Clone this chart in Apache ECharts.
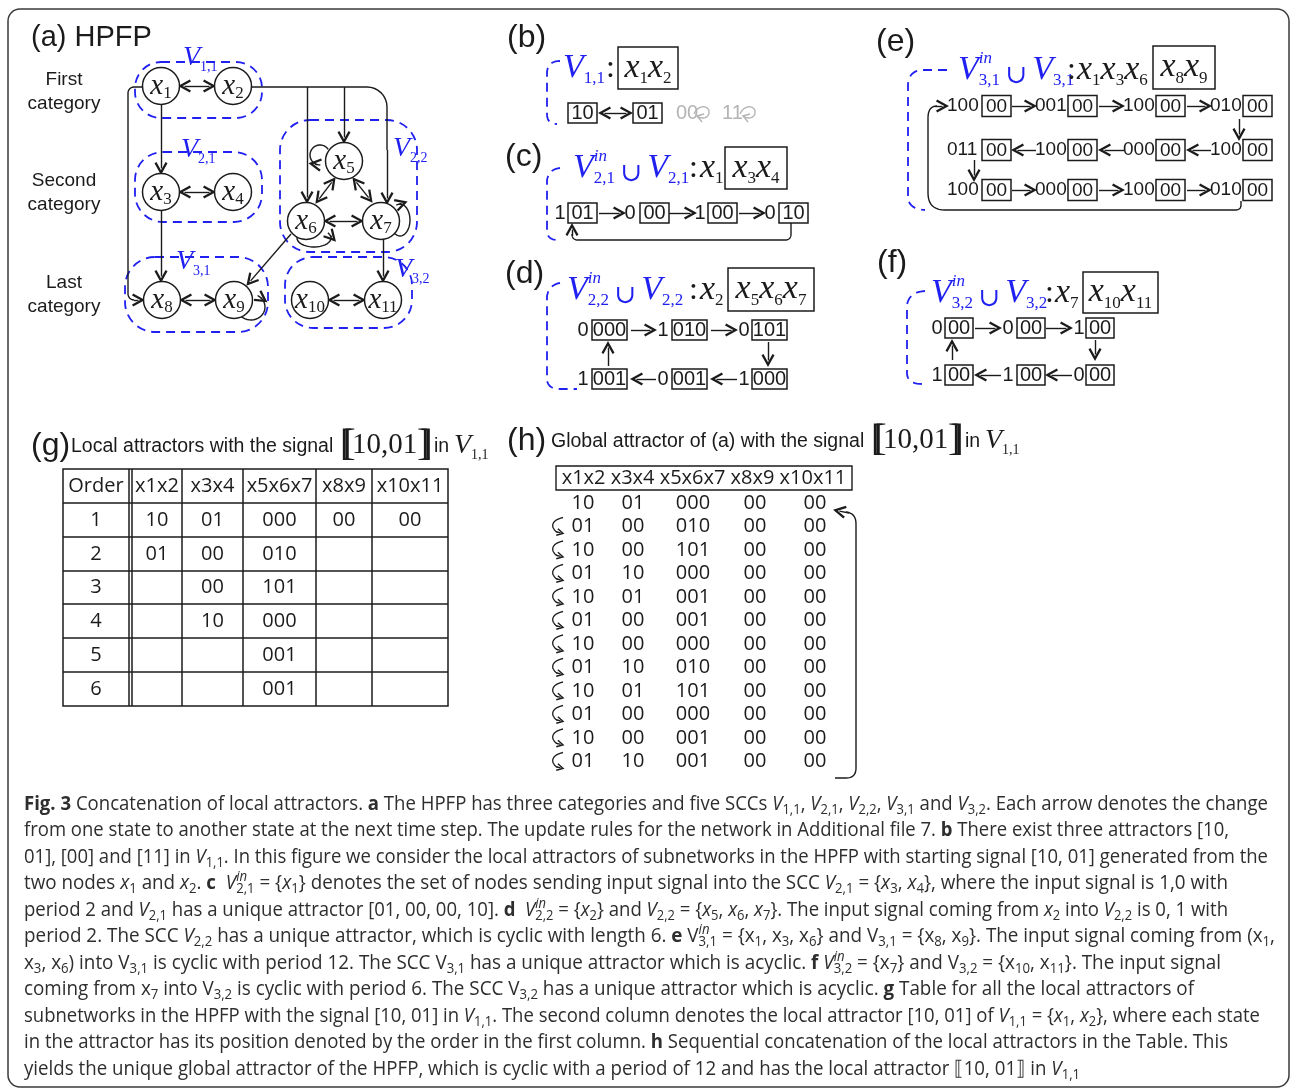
<!DOCTYPE html>
<html>
<head>
<meta charset="utf-8">
<script src="https://cdn.jsdelivr.net/npm/echarts@6/dist/echarts.min.js"></script>
<style>
html, body { margin: 0; padding: 0; background: #fff; }
#container { width: 1290px; height: 1090px; }
</style>
</head>
<body>
<div id="container"></div>
<script>
// ---- data ----
var nodeNames = ['x1', 'x2', 'x3', 'x4', 'x5', 'x6', 'x7', 'x8', 'x9', 'x10', 'x11'];
var sccNames = ['1,1', '2,1', '2,2', '3,1', '3,2'];
var categoryLines = [['First', 'category'], ['Second', 'category'], ['Last', 'category']];

var bAttractor = ['10', '01'];
var bOther = ['00', '11'];
var cSignal = ['1', '0', '1', '0'];
var cStates = ['01', '00', '00', '10'];
var dTopSignal = ['0', '1', '0'];
var dTopStates = ['000', '010', '101'];
var dBottomSignal = ['1', '0', '1'];
var dBottomStates = ['001', '001', '000'];
var eSignal1 = ['100', '001', '100', '010'];
var eSignal2 = ['011', '100', '000', '100'];
var eSignal3 = ['100', '000', '100', '010'];
var eStates = ['00', '00', '00', '00'];
var fTopSignal = ['0', '0', '1'];
var fBottomSignal = ['1', '1', '0'];
var fStates = ['00', '00', '00'];

var gHeader = ['Order', 'x1x2', 'x3x4', 'x5x6x7', 'x8x9', 'x10x11'];
var gOrder = ['1', '2', '3', '4', '5', '6'];
var gX1x2 = ['10', '01', '', '', '', ''];
var gX3x4 = ['01', '00', '00', '10', '', ''];
var gX5x6x7 = ['000', '010', '101', '000', '001', '001'];
var gX8x9 = ['00', '', '', '', '', ''];
var gX10x11 = ['00', '', '', '', '', ''];

var hHeader = ['x1x2', 'x3x4', 'x5x6x7', 'x8x9', 'x10x11'];
var hX1x2 = ['10', '01', '10', '01', '10', '01', '10', '01', '10', '01', '10', '01'];
var hX3x4 = ['01', '00', '00', '10', '01', '00', '00', '10', '01', '00', '00', '10'];
var hX5x6x7 = ['000', '010', '101', '000', '001', '001', '000', '010', '101', '000', '001', '001'];
var hX8x9 = ['00', '00', '00', '00', '00', '00', '00', '00', '00', '00', '00', '00'];
var hX10x11 = ['00', '00', '00', '00', '00', '00', '00', '00', '00', '00', '00', '00'];

// caption, one array per printed line: [style, text]
var capLine1 = [['b', 'Fig. 3'], ['n', ' Concatenation of local attractors. '], ['b', 'a'], ['n', ' The HPFP has three categories and five SCCs '], ['i', 'V'], ['s', '1,1'], ['n', ', '], ['i', 'V'], ['s', '2,1'], ['n', ', '], ['i', 'V'], ['s', '2,2'], ['n', ', '], ['i', 'V'], ['s', '3,1'], ['n', ' and '], ['i', 'V'], ['s', '3,2'], ['n', '. Each arrow denotes the change']];
var capLine2 = [['n', 'from one state to another state at the next time step. The update rules for the network in Additional file 7. '], ['b', 'b'], ['n', ' There exist three attractors [10,']];
var capLine3 = [['n', '01], [00] and [11] in '], ['i', 'V'], ['s', '1,1'], ['n', '. In this figure we consider the local attractors of subnetworks in the HPFP with starting signal [10, 01] generated from the']];
var capLine4 = [['n', 'two nodes '], ['i', 'x'], ['s', '1'], ['n', ' and '], ['i', 'x'], ['s', '2'], ['n', '. '], ['b', 'c'], ['n', '  '], ['i', 'V'], ['p', 'in'], ['s', '2,1'], ['n', ' = {'], ['i', 'x'], ['s', '1'], ['n', '} denotes the set of nodes sending input signal into the SCC '], ['i', 'V'], ['s', '2,1'], ['n', ' = {'], ['i', 'x'], ['s', '3'], ['n', ', '], ['i', 'x'], ['s', '4'], ['n', '}, where the input signal is 1,0 with']];
var capLine5 = [['n', 'period 2 and '], ['i', 'V'], ['s', '2,1'], ['n', ' has a unique attractor [01, 00, 00, 10]. '], ['b', 'd'], ['n', '  '], ['i', 'V'], ['p', 'in'], ['s', '2,2'], ['n', ' = {'], ['i', 'x'], ['s', '2'], ['n', '} and '], ['i', 'V'], ['s', '2,2'], ['n', ' = {'], ['i', 'x'], ['s', '5'], ['n', ', '], ['i', 'x'], ['s', '6'], ['n', ', '], ['i', 'x'], ['s', '7'], ['n', '}. The input signal coming from '], ['i', 'x'], ['s', '2'], ['n', ' into '], ['i', 'V'], ['s', '2,2'], ['n', ' is 0, 1 with']];
var capLine6 = [['n', 'period 2. The SCC '], ['i', 'V'], ['s', '2,2'], ['n', ' has a unique attractor, which is cyclic with length 6. '], ['b', 'e'], ['n', ' V'], ['p', 'in'], ['s', '3,1'], ['n', ' = {x'], ['s', '1'], ['n', ', x'], ['s', '3'], ['n', ', x'], ['s', '6'], ['n', '} and V'], ['s', '3,1'], ['n', ' = {x'], ['s', '8'], ['n', ', x'], ['s', '9'], ['n', '}. The input signal coming from (x'], ['s', '1'], ['n', ',']];
var capLine7 = [['n', 'x'], ['s', '3'], ['n', ', x'], ['s', '6'], ['n', ') into V'], ['s', '3,1'], ['n', ' is cyclic with period 12. The SCC V'], ['s', '3,1'], ['n', ' has a unique attractor which is acyclic. '], ['b', 'f'], ['n', ' '], ['i', 'V'], ['p', 'in'], ['s', '3,2'], ['n', ' = {x'], ['s', '7'], ['n', '} and V'], ['s', '3,2'], ['n', ' = {x'], ['s', '10'], ['n', ', x'], ['s', '11'], ['n', '}. The input signal']];
var capLine8 = [['n', 'coming from x'], ['s', '7'], ['n', ' into V'], ['s', '3,2'], ['n', ' is cyclic with period 6. The SCC V'], ['s', '3,2'], ['n', ' has a unique attractor which is acyclic. '], ['b', 'g'], ['n', ' Table for all the local attractors of']];
var capLine9 = [['n', 'subnetworks in the HPFP with the signal [10, 01] in '], ['i', 'V'], ['s', '1,1'], ['n', '. The second column denotes the local attractor [10, 01] of '], ['i', 'V'], ['s', '1,1'], ['n', ' = {'], ['i', 'x'], ['s', '1'], ['n', ', '], ['i', 'x'], ['s', '2'], ['n', '}, where each state']];
var capLine10 = [['n', 'in the attractor has its position denoted by the order in the first column. '], ['b', 'h'], ['n', ' Sequential concatenation of the local attractors in the Table. This']];
var capLine11 = [['n', 'yields the unique global attractor of the HPFP, which is cyclic with a period of 12 and has the local attractor \u27e610, 01\u27e7 in '], ['i', 'V'], ['s', '1,1']];

// ---- layout ----
var INK = '#1b1b1b', BLUE = '#2020f0', GREY = '#b4b4b4', CAPC = '#2e2e2e';
var SANS = 'Liberation Sans', SERIF = 'Liberation Serif', OPEN = 'Open Sans';

var nodePos = {
	x1: [161, 86], x2: [233, 86], x3: [161, 192], x4: [233, 192],
	x5: [344, 161], x6: [306, 221], x7: [381, 221],
	x8: [162, 300], x9: [234, 300], x10: [310, 300], x11: [383, 300]
};
var sccBox = { '1,1': [135, 62, 127, 56, 26], '2,1': [135, 152, 127, 70, 28], '2,2': [280, 120, 137, 132, 30], '3,1': [125, 257, 143, 75, 30], '3,2': [285, 257, 127, 71, 28] };
var sccLabel = { '1,1': [183, 58], '2,1': [181, 150], '2,2': [393, 149], '3,1': [176, 262], '3,2': [395, 270] };
var capEnds = [1268, 1229, 1268, 1228, 1228, 1275, 1221, 1194, 1260, 1228, 1080];
var capLines = [capLine1, capLine2, capLine3, capLine4, capLine5, capLine6, capLine7, capLine8, capLine9, capLine10, capLine11];

var chart = echarts.init(document.getElementById('container'));
var g = [];

function addText(x, y, text, family, size, opts) {
	var st = { text: text, x: 0, y: 0, fill: INK, fontFamily: family, fontSize: size, align: 'left', verticalAlign: 'middle' };
	if (opts) { for (var k in opts) st[k] = opts[k]; }
	g.push({ type: 'text', x: x, y: y, silent: true, style: st });
}
function toRich(parts) {
	return parts.map(function (p) { return p[0] === 'n' ? p[1] : '{' + p[0] + '|' + p[1] + '}'; }).join('');
}
function addRich(x, y, parts, set, align, sx) {
	g.push({ type: 'text', x: x, y: y, scaleX: sx || 1, silent: true, style: {
		text: toRich(parts), x: 0, y: 0, align: align || 'left', verticalAlign: 'middle',
		fill: set.fill, fontFamily: set.family, fontSize: set.size, fontStyle: set.style || 'normal', fontWeight: 'normal',
		lineHeight: set.L, rich: set.rich } });
}
function addRect(x, y, w, h, stroke, lw, r, dash) {
	g.push({ type: 'rect', silent: true, shape: { x: x, y: y, width: w, height: h, r: r || 0 },
		style: { fill: 'none', stroke: stroke || INK, lineWidth: lw || 1.4, lineDash: dash || null } });
}
// small path reader (absolute M, L, Q, C) turned into polylines
function addPath(d, stroke, lw, dash) {
	var subs = [], cur = null, last = null;
	d.replace(/([MLQC])([^MLQC]*)/g, function (m, cmd, args) {
		var n = (args.match(/-?\d+(\.\d+)?/g) || []).map(Number);
		if (cmd === 'M') { cur = [[n[0], n[1]]]; subs.push(cur); last = [n[0], n[1]]; }
		else if (cmd === 'L') { cur.push([n[0], n[1]]); last = [n[0], n[1]]; }
		else if (cmd === 'Q') {
			for (var i = 1; i <= 10; i++) {
				var t = i / 10, u = 1 - t;
				cur.push([u * u * last[0] + 2 * u * t * n[0] + t * t * n[2], u * u * last[1] + 2 * u * t * n[1] + t * t * n[3]]);
			}
			last = [n[2], n[3]];
		} else if (cmd === 'C') {
			for (var j = 1; j <= 14; j++) {
				var s = j / 14, v = 1 - s;
				cur.push([v * v * v * last[0] + 3 * v * v * s * n[0] + 3 * v * s * s * n[2] + s * s * s * n[4],
					v * v * v * last[1] + 3 * v * v * s * n[1] + 3 * v * s * s * n[3] + s * s * s * n[5]]);
			}
			last = [n[4], n[5]];
		}
		return m;
	});
	subs.forEach(function (pts) {
		g.push({ type: 'polyline', silent: true, shape: { points: pts },
			style: { fill: 'none', stroke: stroke || INK, lineWidth: lw || 1.4, lineDash: dash || null } });
	});
}
function stateBox(x, y, w, h, text, size) {
	addRect(x, y, w, h, INK, 1.5);
	addText(x + w / 2, y + h / 2 + 0.5, text, SANS, size, { align: 'center' });
}
function mathSet(color, size) {
	var L = Math.round(size * 1.15), sub = Math.round(size * 0.5);
	var dS = Math.round(size * 0.2), dP = Math.round(size * 0.4);
	return { family: SERIF, size: size, style: 'italic', fill: color, L: L, rich: {
		v: { fontFamily: SERIF, fontStyle: 'italic', fontSize: size, fill: color, lineHeight: L },
		u: { fontFamily: 'DejaVu Serif', fontSize: Math.round(size * 0.76), fill: color, verticalAlign: 'bottom', lineHeight: L - 6 },
		s: { fontFamily: SERIF, fontSize: sub, fill: color, verticalAlign: 'bottom', lineHeight: L - 2 * dS },
		p: { fontFamily: SERIF, fontStyle: 'italic', fontSize: sub, fill: color, verticalAlign: 'top', lineHeight: L - 2 * dP, width: 0 }
	} };
}
var blueHead = mathSet(BLUE, 34), blackHead = mathSet(INK, 34), blueLabel = mathSet(BLUE, 28), blackTitle = mathSet(INK, 28);
var CUP = '\u2009\u222a\u2009';

// heading of a local panel: blue SCC part, colon, input nodes, boxed nodes
function heading(x, y, sccParts, colonX, inParts, inX, box, boxParts) {
	addRich(x, y, sccParts, blueHead);
	addText(colonX, y + 1, ':', SERIF, 32);
	if (inParts) addRich(inX, y, inParts, blackHead);
	addRect(box[0], box[1], box[2], box[3], INK, 1.5);
	addRich(box[0] + box[2] / 2, box[1] + box[3] / 2, boxParts, blackHead, 'center');
}
function bracket(d) { addPath(d, BLUE, 1.8, [9, 6]); }

// arrows and connectors drawn by lines series in pixel data space
var AH = 5.5;
var oneWay = [], twoWay = [], smallWay = [], bodies = [];
function pull(p0, p1, h) {
	var dx = p1[0] - p0[0], dy = p1[1] - p0[1], len = Math.sqrt(dx * dx + dy * dy);
	return [p1[0] - dx / len * h, p1[1] - dy / len * h];
}
function arrow(p0, p1) { oneWay.push({ coords: [p0, pull(p0, p1, AH)] }); }
function arrow2(p0, p1) { twoWay.push({ coords: [pull(p1, p0, AH), pull(p0, p1, AH)] }); }
function arrowSmall(p0, p1) { smallWay.push({ coords: [p0, pull(p0, p1, 3.5)] }); }
function arc(cx, cy, rx, ry, a0, a1, n) {
	var pts = [];
	for (var i = 0; i <= n; i++) {
		var t = (a0 + (a1 - a0) * i / n) * Math.PI / 180;
		pts.push([cx + rx * Math.cos(t), cy + ry * Math.sin(t)]);
	}
	return pts;
}
function loop(cx, cy, rx, ry, a0, a1) {
	var pts = arc(cx, cy, rx, ry, a0, a1, 24);
	bodies.push(pts);
	arrow(pts[pts.length - 3], pts[pts.length - 1]);
}

// ---- frame ----
addRect(8, 9, 1281, 1078, '#3a3a3a', 1.5, 12);

// ---- (a) HPFP ----
addText(31, 38, '(a) HPFP', SANS, 29);
categoryLines.forEach(function (c, i) {
	var cy = [80, 181, 283][i];
	addText(64, cy, c[0], SANS, 19, { align: 'center' });
	addText(64, cy + 24, c[1], SANS, 19, { align: 'center' });
});
sccNames.forEach(function (s) {
	var b = sccBox[s];
	addRect(b[0], b[1], b[2], b[3], BLUE, 1.8, b[4], [9, 6]);
	addRich(sccLabel[s][0], sccLabel[s][1], [['v', 'V'], ['s', s]], blueLabel);
});
arrow2([179, 86], [215, 86]);
arrow2([179, 192], [215, 192]);
arrow2([180, 300], [216, 300]);
arrow2([328, 300], [365, 300]);
arrow2([324, 221], [363, 221]);
arrow2([335, 178], [316, 203]);
arrow2([353, 178], [372, 202]);
arrow([161, 104], [161, 174]);
arrow([161, 210], [161, 282]);
bodies.push([[143, 87], [134, 87]].concat(arc(134, 93, 6, 6, -90, -180, 6)).concat([[128, 294]]).concat(arc(134, 294, 6, 6, 180, 90, 6)));
arrow([134, 300], [144, 300]);
bodies.push([[251, 87], [367, 87]].concat(arc(367, 107, 20, 20, -90, 0, 8)).concat([[387, 150]]));
arrow([387, 150], [387, 204]);
arrow([307, 87], [307, 203]);
arrow([344, 87], [344, 143]);
arrow([291, 234], [247, 285]);
arrow([383, 239], [383, 282]);
loop(320, 155, 10, 10, -35, -272);
loop(314, 238, 17, 9, 190, -35);
loop(400, 220, 10, 16, 140, -112);
loop(251, 307, 14, 13, 150, -62);

// ---- (b) ----
addText(507, 38, '(b)', SANS, 32);
bracket('M560,61 Q548,61 547,72 L547,114 Q547,124 557,124');
heading(563, 68, [['v', 'V'], ['s', '1,1']], 606, null, 0, [618, 47, 60, 42], [['v', 'x'], ['s', '1'], ['v', 'x'], ['s', '2']]);
stateBox(568, 103, 29, 20, bAttractor[0], 20);
stateBox(633, 103, 29, 20, bAttractor[1], 20);
arrow2([599, 113], [632, 113]);
bOther.forEach(function (s, i) {
	var x0 = [676, 722][i];
	addText(x0, 113, s, SANS, 20, { fill: GREY });
	addPath('M' + (x0 + 18) + ',114 C' + (x0 + 22) + ',104 ' + (x0 + 34) + ',105 ' + (x0 + 33) + ',113 C' + (x0 + 32) + ',119 ' + (x0 + 25) + ',119 ' + (x0 + 21) + ',116', GREY, 1.4);
	addPath('M' + (x0 + 26) + ',122 L' + (x0 + 21) + ',116 L' + (x0 + 28) + ',114', GREY, 1.4);
});

// ---- (c) ----
addText(505, 157, '(c)', SANS, 32);
bracket('M560,168 Q549,169 547,180 L547,232 Q548,240 558,240');
heading(573, 168, [['v', 'V'], ['p', 'in'], ['s', '2,1'], ['u', CUP], ['v', 'V'], ['s', '2,1']], 689,
	[['v', 'x'], ['s', '1']], 700, [725, 147, 62, 42], [['v', 'x'], ['s', '3'], ['v', 'x'], ['s', '4']]);
cSignal.forEach(function (s, i) {
	addText([560, 630, 700, 770][i], 213, s, SANS, 20, { align: 'center' });
	stateBox([568, 640, 708, 779][i], 203, 29, 20, cStates[i], 20);
});
arrow([599, 213], [625, 213]);
arrow([669, 213], [696, 213]);
arrow([739, 213], [765, 213]);
addPath('M791,223 L791,234 Q791,240 785,240 L578,240 Q572,240 572,234');
arrow([572, 236], [572, 224]);

// ---- (d) ----
addText(505, 274, '(d)', SANS, 32);
bracket('M560,283 Q549,285 547,296 L547,380 Q548,389 560,389 L577,389');
heading(567, 290, [['v', 'V'], ['p', 'in'], ['s', '2,2'], ['u', CUP], ['v', 'V'], ['s', '2,2']], 689,
	[['v', 'x'], ['s', '2']], 700, [728, 268, 86, 43], [['v', 'x'], ['s', '5'], ['v', 'x'], ['s', '6'], ['v', 'x'], ['s', '7']]);
dTopSignal.forEach(function (s, i) {
	addText([583, 663, 744][i], 330, s, SANS, 20, { align: 'center' });
	stateBox([592, 672, 752][i], 320, 35, 20, dTopStates[i], 20);
	addText([583, 663, 744][i], 379, dBottomSignal[i], SANS, 20, { align: 'center' });
	stateBox([592, 672, 752][i], 369, 35, 20, dBottomStates[i], 20);
});
arrow([631, 330], [656, 330]);
arrow([711, 330], [737, 330]);
arrow([656, 379], [631, 379]);
arrow([737, 379], [711, 379]);
arrow([608, 366], [608, 342]);
arrow([768, 342], [768, 366]);

// ---- (e) ----
addText(876, 42, '(e)', SANS, 32);
bracket('M947,70 L922,70 Q909,71 908,84 L908,198 Q909,209 925,210');
heading(958, 70, [['v', 'V'], ['p', 'in'], ['s', '3,1'], ['u', CUP], ['v', 'V'], ['s', '3,1']], 1067,
	[['v', 'x'], ['s', '1'], ['v', 'x'], ['s', '3'], ['v', 'x'], ['s', '6']], 1077, [1153, 46, 62, 43], [['v', 'x'], ['s', '8'], ['v', 'x'], ['s', '9']]);
[eSignal1, eSignal2, eSignal3].forEach(function (row, r) {
	var y = [106, 150, 190][r];
	row.forEach(function (s, i) {
		addText([947, 1035, 1123, 1210][i], y, s, SANS, 19);
		stateBox([982, 1068, 1156, 1243][i], y - 10.5, 29, 21, eStates[i], 19);
	});
	[[1012, 1036], [1099, 1124], [1187, 1211]].forEach(function (a) {
		if (r === 1) arrow([a[1], y], [a[0], y]); else arrow([a[0], y], [a[1], y]);
	});
});
arrow([1239, 119], [1239, 140]);
arrow([974, 160], [974, 181]);
addPath('M1241,201 L1241,205 Q1241,210 1235,210 L945,210 Q928,210 928,193 L928,118 Q928,106 937,106');
arrow([935, 106], [948, 106]);

// ---- (f) ----
addText(877, 263, '(f)', SANS, 32);
bracket('M925,291 Q909,292 907,305 L907,374 Q908,384 922,384');
heading(931, 293, [['v', 'V'], ['p', 'in'], ['s', '3,2'], ['u', CUP], ['v', 'V'], ['s', '3,2']], 1045,
	[['v', 'x'], ['s', '7']], 1055, [1083, 272, 75, 41], [['v', 'x'], ['s', '10'], ['v', 'x'], ['s', '11']]);
fTopSignal.forEach(function (s, i) {
	addText([937, 1008, 1079][i], 328, s, SANS, 20, { align: 'center' });
	stateBox([945, 1017, 1086][i], 318, 28, 20, fStates[i], 20);
	addText([937, 1008, 1079][i], 375, fBottomSignal[i], SANS, 20, { align: 'center' });
	stateBox([945, 1017, 1086][i], 365, 28, 20, fStates[i], 20);
});
arrow([975, 328], [1001, 328]);
arrow([1046, 328], [1072, 328]);
arrow([1001, 375], [975, 375]);
arrow([1072, 375], [1046, 375]);
arrow([952, 360], [952, 340]);
arrow([1095, 340], [1095, 360]);

// ---- (g) table ----
function signalTitle(x, y, label, text, tx, bx) {
	addText(x, y, label, SANS, 32);
	addText(tx, y + 1, text, SANS, 19.5);
	addText(bx, y - 1, '[', SERIF, 38); addText(bx + 3, y - 1, '[', SERIF, 38);
	addText(bx + 12, y - 1, '10,01', SERIF, 29);
	addText(bx + 77, y - 1, ']', SERIF, 38); addText(bx + 80, y - 1, ']', SERIF, 38);
	addText(bx + 94, y + 1, 'in', SANS, 19.5);
	addRich(bx + 114, y, [['v', 'V'], ['s', '1,1']], blackTitle);
}
signalTitle(31, 446, '(g)', 'Local attractors with the signal', 71, 340);
var gCols = [63, 129, 182, 243, 316, 372, 448];
var gRows = [469, 503, 537, 571, 604, 638, 672, 706];
addRect(63, 469, 385, 237, INK, 1.5);
gRows.slice(1, 7).forEach(function (y) { addPath('M63,' + y + ' L448,' + y, INK, 1.5); });
gCols.slice(1, 6).forEach(function (x) { addPath('M' + x + ',469 L' + x + ',706', INK, 1.5); });
addPath('M132,469 L132,706', INK, 1.5);
var gColCenter = [96, 157, 212.5, 279.5, 344, 410];
gHeader.forEach(function (h, i) { addText(gColCenter[i], 486, h, OPEN, 20, { align: 'center' }); });
[gOrder, gX1x2, gX3x4, gX5x6x7, gX8x9, gX10x11].forEach(function (col, c) {
	col.forEach(function (v, r) { if (v) addText(gColCenter[c], (gRows[r + 1] + gRows[r + 2]) / 2, v, OPEN, 20, { align: 'center' }); });
});

// ---- (h) global attractor ----
signalTitle(507, 441, '(h)', 'Global attractor of (a) with the signal', 551, 871);
addRect(556, 466, 296, 24, INK, 1.4);
addText(704, 478, hHeader.join(' '), OPEN, 20, { align: 'center' });
var hColCenter = [583, 633, 693, 755, 815];
[hX1x2, hX3x4, hX5x6x7, hX8x9, hX10x11].forEach(function (col, c) {
	col.forEach(function (v, r) { addText(hColCenter[c], 503 + r * 23.5, v, OPEN, 20, { align: 'center' }); });
});
hX1x2.forEach(function (v, r) {
	if (r === 0) return;
	var y = 503 + r * 23.5;
	addPath('M563,' + (y - 9) + ' Q551,' + (y - 6) + ' 553,' + (y + 1) + ' Q555,' + (y + 5) + ' 558,' + (y + 6), INK, 1.3);
	arrowSmall([556, y + 5.2], [564, y + 7.2]);
});
addPath('M835,778 L846,778 Q856,778 856,768 L856,524 Q856,513 846,512');
arrow([849, 513], [834, 510]);

// ---- caption ----
var capRich = {
	b: { fontFamily: OPEN, fontSize: 20, fontWeight: 'bold', fill: CAPC, lineHeight: 26 },
	i: { fontFamily: OPEN, fontSize: 20, fontStyle: 'italic', fill: CAPC, lineHeight: 26 },
	s: { fontFamily: OPEN, fontSize: 14, fill: CAPC, verticalAlign: 'bottom', lineHeight: 14 },
	p: { fontFamily: OPEN, fontSize: 14, fontStyle: 'italic', fill: CAPC, verticalAlign: 'top', lineHeight: 12, width: 0 }
};
var capSet = { family: OPEN, size: 20, fill: CAPC, L: 26, rich: capRich };
var ctx = document.createElement('canvas').getContext('2d');
function measure(parts) {
	var w = 0;
	parts.forEach(function (p) {
		var st = capRich[p[0]] || { fontFamily: OPEN, fontSize: 20 };
		if (st.width === 0) return;
		ctx.font = (st.fontStyle || 'normal') + ' ' + (st.fontWeight || 'normal') + ' ' + st.fontSize + 'px ' + st.fontFamily;
		w += ctx.measureText(p[1]).width;
	});
	return w;
}
capLines.forEach(function (parts, i) {
	var sx = (capEnds[i] - 24) / measure(parts);
	addRich(24, 804 + i * 26.5, parts, capSet, 'left', sx);
});

// ---- chart ----
var chev = 'path://M0,10L6,0L12,10L10.2,11L6,4L1.8,11Z';
var option = {
	animation: false,
	grid: { left: 0, right: 0, top: 0, bottom: 0 },
	xAxis: { type: 'value', min: 0, max: 1290, show: false },
	yAxis: { type: 'value', min: 0, max: 1090, inverse: true, show: false },
	graphic: { elements: g },
	series: [
		{
			type: 'lines', coordinateSystem: 'cartesian2d', polyline: true, silent: true, symbol: 'none', z: 3,
			lineStyle: { color: INK, width: 1.4, opacity: 1 },
			data: bodies.map(function (c) { return { coords: c }; })
		},
		{
			type: 'lines', coordinateSystem: 'cartesian2d', silent: true, z: 3,
			symbol: ['none', chev], symbolSize: 13,
			lineStyle: { color: INK, width: 1.4, opacity: 1 },
			data: oneWay
		},
		{
			type: 'lines', coordinateSystem: 'cartesian2d', silent: true, z: 3,
			symbol: [chev, chev], symbolSize: 13,
			lineStyle: { color: INK, width: 1.4, opacity: 1 },
			data: twoWay
		},
		{
			type: 'lines', coordinateSystem: 'cartesian2d', silent: true, z: 3,
			symbol: ['none', chev], symbolSize: 8,
			lineStyle: { color: INK, width: 1.3, opacity: 1 },
			data: smallWay
		},
		{
			type: 'scatter', coordinateSystem: 'cartesian2d', silent: true, z: 5,
			symbol: 'circle', symbolSize: 37,
			itemStyle: { color: '#fff', borderColor: INK, borderWidth: 1.5, opacity: 1 },
			label: {
				show: true, position: 'inside',
				formatter: function (p) { return '{x|x}{s|' + p.name.slice(1) + '}'; },
				rich: {
					x: { fontFamily: SERIF, fontStyle: 'italic', fontSize: 29, color: INK, lineHeight: 32 },
					s: { fontFamily: SERIF, fontSize: 17, color: INK, verticalAlign: 'bottom', lineHeight: 18 }
				}
			},
			data: nodeNames.map(function (n) { return { name: n, value: nodePos[n] }; })
		}
	]
};
chart.setOption(option);
</script>
</body>
</html>
